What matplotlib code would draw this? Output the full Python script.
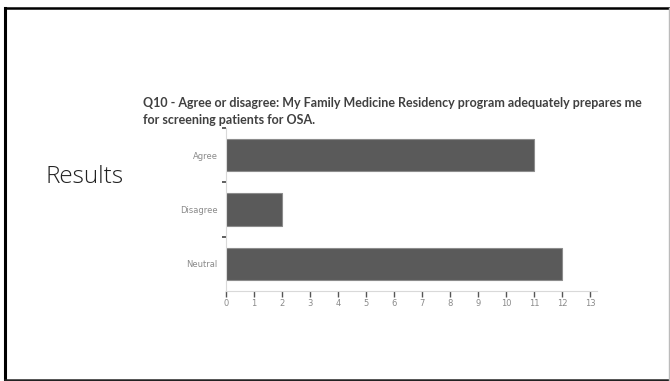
import matplotlib
matplotlib.use('Agg')
import matplotlib.pyplot as plt
from matplotlib.lines import Line2D

categories = ['Agree', 'Disagree', 'Neutral']
counts = [11, 2, 12]
xticks = list(range(0, 14))

title = ('Q10 - Agree or disagree: My Family Medicine Residency program adequately prepares me\n'
         'for screening patients for OSA.')

fig = plt.figure(figsize=(6.7, 3.81), dpi=100)
fig.patch.set_facecolor('white')

ax = fig.add_axes([226/670, 1 - 291/381, (597 - 226)/670, (291 - 128)/381])
ypos = list(range(len(categories)))
ax.barh(ypos, counts, height=0.6, color='#5a5a5a', edgecolor='#8c8c8c', linewidth=0.8)
ax.set_ylim(len(categories) - 0.5, -0.5)
ax.set_xlim(0, 13.25)
ax.set_xticks(xticks)
ax.set_xticklabels([str(t) for t in xticks])
ax.set_yticks(ypos)
ax.set_yticklabels(categories)
# category boundary ticks on the left
ax.set_yticks([-0.5, 0.5, 1.5], minor=True)
ax.tick_params(axis='y', which='major', length=0, pad=6, labelsize=6, labelcolor='#8a8a8a')
ax.tick_params(axis='y', which='minor', length=3, width=1.2, color='#444444', direction='out')
ax.tick_params(axis='x', which='major', length=4, width=1.0, color='#555555', direction='out',
               labelsize=6, labelcolor='#8a8a8a', pad=2)
for side in ['top', 'right']:
    ax.spines[side].set_visible(False)
for side in ['left', 'bottom']:
    ax.spines[side].set_color('#d9d9d9')
    ax.spines[side].set_linewidth(0.8)
for lab in ax.get_xticklabels() + ax.get_yticklabels():
    lab.set_family('Liberation Sans Narrow')

fig.text(143/670, 1 - 97/381, title, ha='left', va='top', fontsize=9, fontweight='bold',
         color='#404040', family='Lato', linespacing=1.45)
fig.text(46/670, 1 - 183/381, 'Results', ha='left', va='baseline', fontsize=17.5,
         color='#222222', family='Open Sans', fontweight='light')

# slide border
fig.add_artist(Line2D([4.5/670, 4.5/670], [1 - 8/381, 1 - 380/381], transform=fig.transFigure,
                      color='black', linewidth=2.2))
fig.add_artist(Line2D([4.5/670, 669/670], [1 - 8/381, 1 - 8/381], transform=fig.transFigure,
                      color='black', linewidth=1.8))
fig.add_artist(Line2D([4.5/670, 669/670], [1 - 380/381, 1 - 380/381], transform=fig.transFigure,
                      color='#222222', linewidth=1.8))
fig.add_artist(Line2D([669/670, 669/670], [1 - 8/381, 1 - 380/381], transform=fig.transFigure,
                      color='#bbbbbb', linewidth=1))

fig.savefig('out.png', dpi=100)
